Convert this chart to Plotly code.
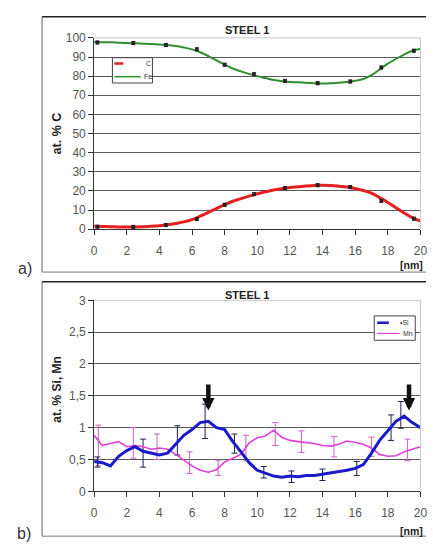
import plotly.graph_objects as go

# ---------------- data ----------------
x_top = [i * 0.5 for i in range(41)]
fe = [97.8, 97.7, 97.7, 97.5, 97.3, 97.2, 97.0, 96.8, 96.5, 96.3, 95.8, 95.0, 94.0, 92.5,
      90.5, 88.3, 86.0, 84.0, 82.5, 81.2, 80.0, 79.0, 78.0, 77.5, 77.0, 76.8, 76.5, 76.3,
      76.2, 76.3, 76.5, 77.0, 77.6, 78.5, 80.5, 83.5, 86.5, 89.0, 91.3, 93.3, 94.2]
c = [1.5, 1.4, 1.3, 1.2, 1.2, 1.2, 1.3, 1.5, 1.8, 2.3, 3.0, 3.8, 5.0, 6.8, 8.8, 10.8,
     12.8, 14.6, 16.0, 17.3, 18.5, 19.5, 20.5, 21.2, 21.8, 22.2, 22.6, 22.9, 23.0, 22.9,
     22.5, 22.0, 21.3, 20.2, 18.8, 16.5, 14.0, 11.2, 8.5, 6.0, 4.2]

x_err_top = [0.2, 2.4, 4.4, 6.3, 8.0, 9.8, 11.7, 13.7, 15.7, 17.6, 19.6]
fe_err_y = [97.6, 97.3, 96.3, 94.0, 86.0, 81.0, 77.5, 76.3, 77.2, 84.5, 93.3]
c_err_y = [1.3, 1.2, 2.2, 5.3, 12.8, 18.3, 21.5, 23.0, 22.0, 14.8, 5.5]
err_top = [0.8] * 11

x_bot = [i * 0.5 for i in range(41)]
si = [0.47, 0.45, 0.40, 0.55, 0.64, 0.70, 0.63, 0.60, 0.57, 0.60, 0.74, 0.88, 0.97, 1.08,
      1.10, 1.00, 0.97, 0.78, 0.62, 0.45, 0.33, 0.28, 0.24, 0.22, 0.24, 0.23, 0.25, 0.25,
      0.27, 0.28, 0.30, 0.33, 0.36, 0.42, 0.60, 0.80, 0.95, 1.10, 1.18, 1.08, 1.00]
mn = [0.88, 0.72, 0.75, 0.78, 0.70, 0.72, 0.70, 0.66, 0.68, 0.66, 0.58, 0.49, 0.40, 0.33,
      0.30, 0.34, 0.46, 0.52, 0.58, 0.76, 0.84, 0.87, 0.96, 0.85, 0.80, 0.78, 0.77, 0.75,
      0.72, 0.71, 0.74, 0.79, 0.77, 0.74, 0.68, 0.58, 0.55, 0.56, 0.62, 0.66, 0.70]

si_err_x = [0.2, 3.0, 5.1, 6.8, 8.6, 10.4, 12.1, 14.0, 16.1, 18.2, 18.8]
si_err_y = [0.46, 0.60, 0.80, 1.10, 0.75, 0.30, 0.23, 0.26, 0.36, 1.00, 1.20]
si_err = [0.08, 0.22, 0.23, 0.27, 0.15, 0.09, 0.09, 0.09, 0.11, 0.20, 0.21]

mn_err_x = [0.26, 2.4, 3.85, 5.85, 7.6, 9.3, 11.1, 12.7, 14.7, 17.0, 19.2]
mn_err_y = [0.72, 0.76, 0.70, 0.45, 0.37, 0.68, 0.90, 0.78, 0.70, 0.70, 0.65]
mn_err = [0.32, 0.24, 0.20, 0.17, 0.12, 0.20, 0.18, 0.17, 0.16, 0.15, 0.17]

arrow_x = [7.0, 19.3]
arrow_tip = [1.27, 1.27]
arrow_tail = [1.70, 1.70]

x_ticks = [0, 2, 4, 6, 8, 10, 12, 14, 16, 18, 20]
y_ticks_top = [0, 10, 20, 30, 40, 50, 60, 70, 80, 90, 100]
y_ticks_bot = [0, 0.5, 1, 1.5, 2, 2.5, 3]
y_ticktext_bot = ["0", "0,5", "1", "1,5", "2", "2,5", "3"]

# ---------------- figure ----------------
W, H = 433, 549
FONT = "Liberation Sans, Arial, sans-serif"


def px(x):
    return x / W


def py(y):
    return 1 - y / H


fig = go.Figure()

# top panel
fig.add_trace(go.Scatter(x=x_top, y=fe, mode="lines", line=dict(color="#2f8f2f", width=2, shape="spline"),
                         xaxis="x", yaxis="y", showlegend=False))
fig.add_trace(go.Scatter(x=x_top, y=c, mode="lines", line=dict(color="#e41f1f", width=3, shape="spline"),
                         xaxis="x", yaxis="y", showlegend=False))
fig.add_trace(go.Scatter(x=x_err_top, y=fe_err_y, mode="markers",
                         marker=dict(symbol="square", size=3.5, color="#222"),
                         error_y=dict(type="data", array=err_top, color="#222", thickness=1, width=2),
                         xaxis="x", yaxis="y", showlegend=False))
fig.add_trace(go.Scatter(x=x_err_top, y=c_err_y, mode="markers",
                         marker=dict(symbol="square", size=3.5, color="#222"),
                         error_y=dict(type="data", array=err_top, color="#222", thickness=1, width=2),
                         xaxis="x", yaxis="y", showlegend=False))

# bottom panel
fig.add_trace(go.Scatter(x=mn_err_x, y=mn_err_y, mode="markers", marker=dict(size=1, color="rgba(0,0,0,0)"),
                         error_y=dict(type="data", array=mn_err, color="#c860c0", thickness=1, width=3),
                         xaxis="x2", yaxis="y2", showlegend=False))
fig.add_trace(go.Scatter(x=si_err_x, y=si_err_y, mode="markers", marker=dict(size=1, color="rgba(0,0,0,0)"),
                         error_y=dict(type="data", array=si_err, color="#202050", thickness=1, width=3),
                         xaxis="x2", yaxis="y2", showlegend=False))
fig.add_trace(go.Scatter(x=x_bot, y=mn, mode="lines", line=dict(color="#e040d8", width=1.6),
                         xaxis="x2", yaxis="y2", showlegend=False))
fig.add_trace(go.Scatter(x=x_bot, y=si, mode="lines", line=dict(color="#1a1ac8", width=3),
                         xaxis="x2", yaxis="y2", showlegend=False))

xdom = [px(93.3), px(427.3)]
axis_common = dict(showline=True, linecolor="#333", linewidth=1, ticks="outside", ticklen=5,
                   tickcolor="#333", tickfont=dict(family=FONT, size=12, color="#555"),
                   zeroline=False, fixedrange=True, ticklabeloverflow="allow")

fig.update_layout(
    width=W, height=H, margin=dict(l=0, r=0, t=0, b=0),
    paper_bgcolor="white", plot_bgcolor="white", showlegend=False,
    xaxis=dict(domain=xdom, range=[0, 20], tickvals=x_ticks, showgrid=False, anchor="y",
               ticklabelstandoff=5, **axis_common),
    yaxis=dict(domain=[py(228), py(31.7)], range=[0, 100], tickvals=y_ticks_top, showgrid=True,
               gridcolor="#5a5a5a", gridwidth=1, anchor="x", **axis_common),
    xaxis2=dict(domain=xdom, range=[0, 20], tickvals=x_ticks, showgrid=False, anchor="y2",
                ticklabelstandoff=5, **axis_common),
    yaxis2=dict(domain=[py(497), py(301)], range=[0, 3], tickvals=y_ticks_bot, ticktext=y_ticktext_bot,
                showgrid=True, gridcolor="#5a5a5a", gridwidth=1, anchor="x2", **axis_common),
)

shapes = []
# panel frames (right side cut off)
for top, bot in [(10, 272), (282, 543)]:
    shapes.append(dict(type="line", xref="paper", yref="paper", x0=px(40), x1=1.0, y0=py(top), y1=py(top),
                       line=dict(color="#222", width=1.5)))
    shapes.append(dict(type="line", xref="paper", yref="paper", x0=px(40), x1=px(40), y0=py(top), y1=py(bot),
                       line=dict(color="#666", width=1)))
    shapes.append(dict(type="line", xref="paper", yref="paper", x0=px(40), x1=1.0, y0=py(bot), y1=py(bot),
                       line=dict(color="#777", width=1)))
# plot area light border (top and right)
for t, b in [(31.7, 228), (301, 497)]:
    shapes.append(dict(type="line", xref="paper", yref="paper", x0=xdom[0], x1=xdom[1], y0=py(t), y1=py(t),
                       line=dict(color="#c8c8c8", width=1)))
    shapes.append(dict(type="line", xref="paper", yref="paper", x0=xdom[1], x1=xdom[1], y0=py(t), y1=py(b),
                       line=dict(color="#c8c8c8", width=1)))

# legend boxes
shapes.append(dict(type="rect", xref="paper", yref="paper", x0=px(112), x1=px(153), y0=py(78), y1=py(52),
                   line=dict(color="#444", width=1), fillcolor="white"))
shapes.append(dict(type="line", xref="paper", yref="paper", x0=px(114), x1=px(132), y0=py(58), y1=py(58),
                   line=dict(color="#e41f1f", width=2.5, dash="dash")))
shapes.append(dict(type="line", xref="paper", yref="paper", x0=px(114), x1=px(141), y0=py(71.5), y1=py(71.5),
                   line=dict(color="#2f8f2f", width=1.5)))
shapes.append(dict(type="rect", xref="paper", yref="paper", x0=px(380), x1=px(422), y0=py(342), y1=py(317),
                   line=dict(color="#444", width=1), fillcolor="white"))
shapes.append(dict(type="line", xref="paper", yref="paper", x0=px(383), x1=px(395), y0=py(324), y1=py(324),
                   line=dict(color="#1a1ac8", width=2.5)))
shapes.append(dict(type="line", xref="paper", yref="paper", x0=px(383), x1=px(406), y0=py(335), y1=py(335),
                   line=dict(color="#e040d8", width=1.2)))
fig.update_layout(shapes=shapes)

ann = []


def txt(x, y, s, size, bold=False, color="#222", angle=0, xanchor="center"):
    ann.append(dict(x=px(x), y=py(y), xref="paper", yref="paper", text=f"<b>{s}</b>" if bold else s,
                    showarrow=False, textangle=angle, xanchor=xanchor, yanchor="middle",
                    font=dict(family=FONT, size=size, color=color)))


txt(250, 24, "STEEL 1", 11, bold=True)
txt(250, 296, "STEEL 1", 11, bold=True)
txt(55, 130, "at. % C", 12.5, bold=True, angle=-90)
txt(55, 392, "at. % Si, Mn", 12, bold=True, angle=-90)
txt(432, 264.5, "[nm]", 10.5, bold=True, xanchor="right")
txt(432, 538, "[nm]", 10.5, bold=True, xanchor="right")
txt(23, 268, "a)", 16, color="#333")
txt(21, 540, "b)", 16, color="#333")
txt(144, 58, "C", 7, xanchor="left", color="#333")
txt(142, 71.5, "Fe", 7, xanchor="left", color="#333")
txt(404, 324, "•Si", 7, xanchor="left", color="#333")
txt(407, 335, "Mn", 7, xanchor="left", color="#333")

for xa, tip, tail in zip(arrow_x, arrow_tip, arrow_tail):
    ann.append(dict(x=xa, y=tip, ax=xa, ay=tail, xref="x2", yref="y2", axref="x2", ayref="y2",
                    showarrow=True, arrowhead=2, arrowsize=0.55, arrowwidth=4.5, arrowcolor="#111", text=""))

fig.update_layout(annotations=ann)

fig.write_html("out.html", config={"displayModeBar": False},
               post_script="document.body.style.margin='0';")
